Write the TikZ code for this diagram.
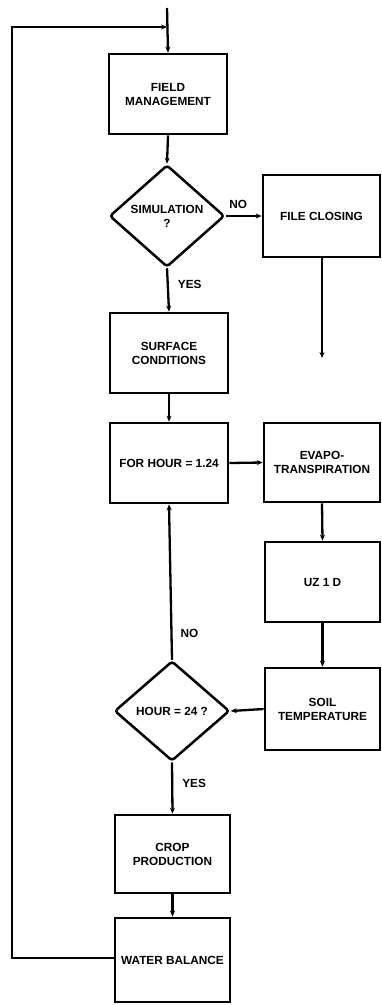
\documentclass[tikz,border=0pt]{standalone}
\usepackage{fontspec}
\setmainfont{Liberation Sans}
\usetikzlibrary{shapes.geometric,arrows.meta}
\begin{document}
\begin{tikzpicture}[x=1pt,y=-1pt,
  box/.style={draw,line width=2.7pt,rectangle,align=center,inner sep=0pt,
    font=\fontsize{11.8}{14}\selectfont\bfseries},
  dec/.style={draw,line width=2.5pt,diamond,rounded corners=3pt,align=center,inner sep=0pt,
    font=\fontsize{11.8}{14}\selectfont\bfseries},
  conn/.style={line width=2.3pt,-{Stealth[length=6pt,width=5pt]}},
  lbl/.style={font=\fontsize{11.8}{14}\selectfont\bfseries,inner sep=0pt}]
\useasboundingbox (0,0) rectangle (381,1005);
% nodes
\coordinate (start) at (167,8);
\node[box,minimum width=118pt,minimum height=80pt] (fm) at (168,94) {FIELD\\MANAGEMENT};
\node[dec,minimum width=115pt,minimum height=102pt] (sim) at (167,216) {SIMULATION\\?};
\node[box,minimum width=117pt,minimum height=82pt] (fc) at (321.5,216) {FILE CLOSING};
\coordinate (fcend) at (322,358);
\node[box,minimum width=118pt,minimum height=80pt] (sc) at (169,353) {SURFACE\\CONDITIONS};
\node[box,minimum width=118pt,minimum height=80pt] (fh) at (169,463) {FOR HOUR = 1.24};
\node[box,minimum width=116pt,minimum height=79pt] (ev) at (322,462.5) {EVAPO-\\TRANSPIRATION};
\node[box,minimum width=115pt,minimum height=80pt] (uz) at (322.5,582) {UZ 1 D};
\node[box,minimum width=115pt,minimum height=82pt] (st) at (322.5,709) {SOIL\\TEMPERATURE};
\node[dec,minimum width=115pt,minimum height=100pt] (hr) at (172,711) {HOUR = 24 ?};
\node[box,minimum width=115pt,minimum height=78pt] (cp) at (172.5,854) {CROP\\PRODUCTION};
\node[box,minimum width=115pt,minimum height=84pt] (wb) at (172.5,960) {WATER BALANCE};
\coordinate (lb) at (12,958);
\coordinate (lt) at (12,27);
\coordinate (jn) at (167,27);
% connectors
\draw[conn] (start) -- (fm.north);
\draw[conn] (fm.south) -- (sim.north);
\draw[conn] (sim.east) -- node[lbl,above=6pt,pos=0.35]{NO} (fc.west);
\draw[conn] (sim.south) -- node[lbl,right=9pt,pos=0.38]{YES} (sc.north);
\draw[conn] (fc.south -| fcend) -- (fcend);
\draw[conn] (sc.south) -- (fh.north);
\draw[conn] (fh.east) -- (ev.west);
\draw[conn] (ev.south) -- (uz.north);
\draw[conn] (uz.south) -- (st.north);
\draw[conn] (st.west) -- (hr.east);
\draw[conn] (hr.north) -- node[lbl,right=8pt,pos=0.17]{NO} (fh.south);
\draw[conn] (hr.south) -- node[lbl,right=9pt,pos=0.42]{YES} (cp.north);
\draw[conn] (cp.south) -- (wb.north);
\draw[conn] (wb.west |- lb) -- (lb) -- (lt) -- (jn);
\end{tikzpicture}
\end{document}
